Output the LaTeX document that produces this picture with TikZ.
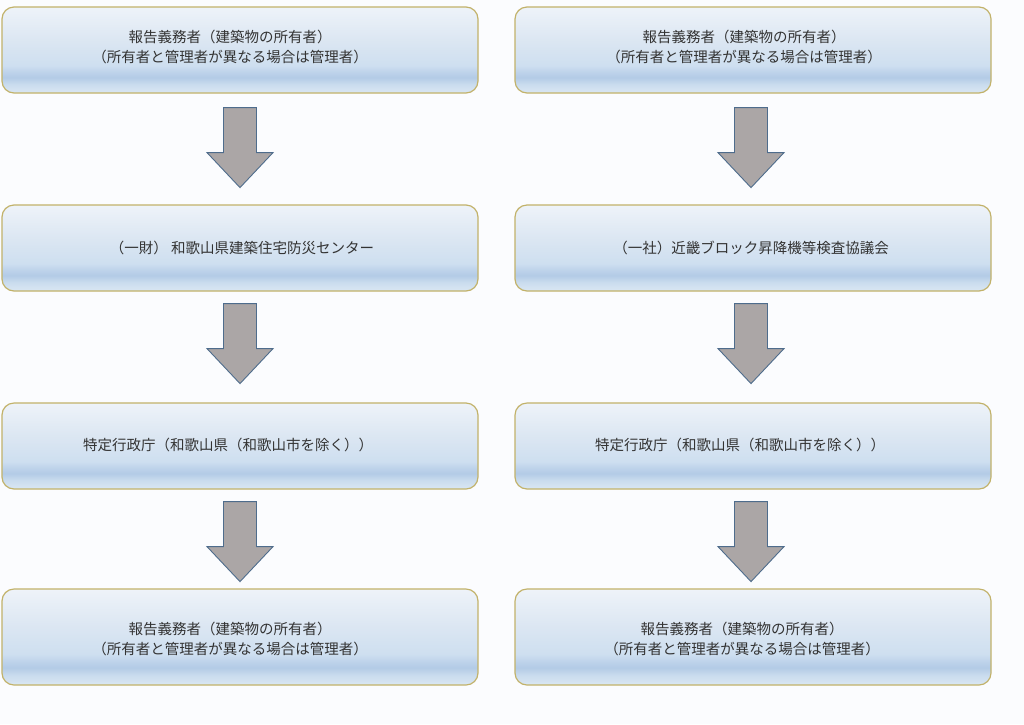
\documentclass[tikz,border=0pt]{standalone}
\usepackage{fontspec}
\newfontfamily\jp{Noto Sans CJK JP}
\usetikzlibrary{calc}
\definecolor{bg}{HTML}{FBFCFE}
\definecolor{boxborder}{HTML}{C2B26A}
\definecolor{txt}{HTML}{333333}
\definecolor{arrfill}{HTML}{ABA6A6}
\definecolor{arrdraw}{HTML}{4E6C8C}
\definecolor{sa}{HTML}{DAE7F3}
\definecolor{sb}{HTML}{CADCEE}
\definecolor{sc}{HTML}{B3CBE6}
\definecolor{sd}{HTML}{BDD2EA}
\definecolor{se}{HTML}{CEDFF0}
\definecolor{sf}{HTML}{DBE6F2}
\definecolor{sg}{HTML}{EEF3F9}
\pgfdeclareverticalshading{boxshade}{100bp}{%
  color(0bp)=(sa);
  color(25bp)=(sa);
  color(30bp)=(sb);
  color(34bp)=(sc);
  color(37bp)=(sd);
  color(41bp)=(se);
  color(55bp)=(sf);
  color(75bp)=(sg);
  color(100bp)=(sg)}
\tikzset{
  box/.style={draw=boxborder, line width=1.2pt, rounded corners=12pt,
    shading=boxshade, minimum width=476pt, minimum height=86pt, inner sep=0pt},
  lbl/.style={font=\jp\fontsize{14.5pt}{20pt}\selectfont, text=txt, align=center, inner sep=0pt},
  barrow/.style={fill=arrfill, draw=arrdraw, line width=0.9pt, line join=miter},
  downarrow/.pic={\draw[barrow] (-16.5,0) -- (16.5,0) -- (16.5,45) -- (33,45) -- (0,80) -- (-33,45) -- (-16.5,45) -- cycle;}
}
\begin{document}
\begin{tikzpicture}[x=1pt,y=-1pt]
\useasboundingbox (0,0) rectangle (1024,724);
\fill[bg] (0,0) rectangle (1024,724);
% left column
\node[box] (L1) at (240,50) {};
\node[box] (L2) at (240,248) {};
\node[box] (L3) at (240,446) {};
\node[box, minimum height=96pt] (L4) at (240,637) {};
% right column
\node[box] (R1) at (753,50) {};
\node[box] (R2) at (753,248) {};
\node[box] (R3) at (753,446) {};
\node[box, minimum height=96pt] (R4) at (753,637) {};
% texts
\node[lbl] (tL1) at ($(L1.center)+(-10,-3)$) {報告義務者（建築物の所有者）\\（所有者と管理者が異なる場合は管理者）};
\node[lbl] (tL2) at ($(L2.center)+(2,0)$) {（一財） 和歌山県建築住宅防災センター};
\node[lbl] (tL3) at ($(L3.center)+(-12,-1)$) {特定行政庁（和歌山県（和歌山市を除く））};
\node[lbl] (tL4) at ($(L4.center)+(-10,2)$) {報告義務者（建築物の所有者）\\（所有者と管理者が異なる場合は管理者）};
\node[lbl] (tR1) at ($(R1.center)+(-9,-3)$) {報告義務者（建築物の所有者）\\（所有者と管理者が異なる場合は管理者）};
\node[lbl] (tR2) at ($(R2.center)+(-2,0)$) {（一社）近畿ブロック昇降機等検査協議会};
\node[lbl] (tR3) at ($(R3.center)+(-13,-1)$) {特定行政庁（和歌山県（和歌山市を除く））};
\node[lbl] (tR4) at ($(R4.center)+(-11,2)$) {報告義務者（建築物の所有者）\\（所有者と管理者が異なる場合は管理者）};
% arrows
\pic at ($(L1.south)+(0,14)$) {downarrow};
\pic at ($(L2.south)+(0,12)$) {downarrow};
\pic at ($(L3.south)+(0,12)$) {downarrow};
\pic at ($(R1.south)+(-2,14)$) {downarrow};
\pic at ($(R2.south)+(-2,12)$) {downarrow};
\pic at ($(R3.south)+(-2,12)$) {downarrow};
\end{tikzpicture}
\end{document}
